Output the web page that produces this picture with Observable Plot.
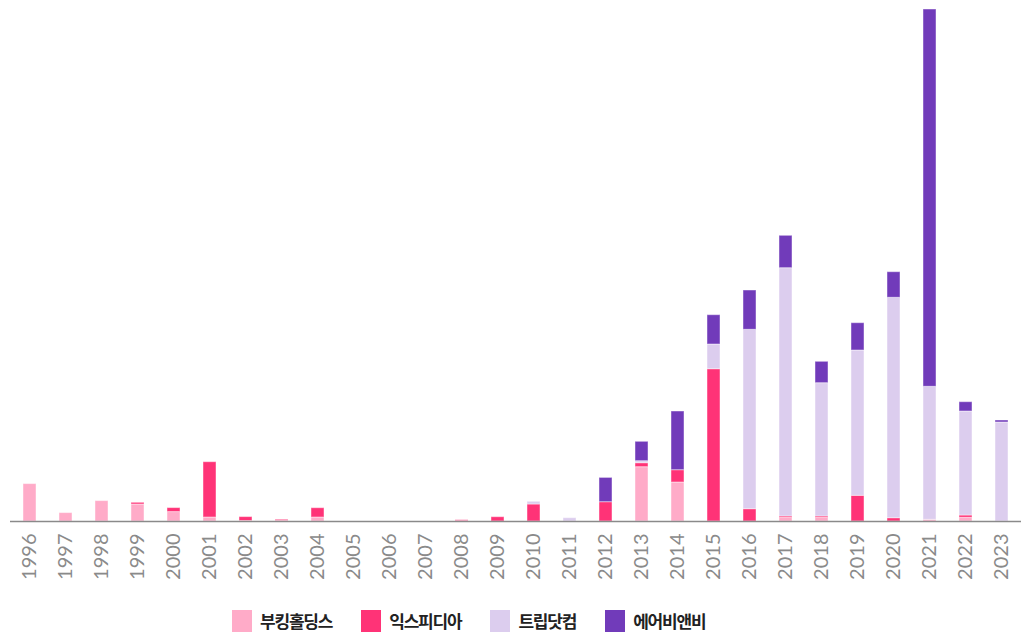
<!DOCTYPE html>
<html>
<head>
<meta charset="utf-8">
<script src="https://cdn.jsdelivr.net/npm/d3@7"></script>
<script src="https://cdn.jsdelivr.net/npm/@observablehq/plot@0.6"></script>
<style>
  html, body { margin: 0; padding: 0; background: #fff; }
  #legend { display: flex; align-items: center; padding-left: 232px; margin-top: 22px; font-family: "Noto Sans CJK KR", sans-serif; font-size: 17px; font-weight: 700; letter-spacing: -1.2px; color: #222; }
  #legend .item { display: flex; align-items: center; margin-right: 29px; }
  #legend .sw { width: 20px; height: 22px; margin-right: 8px; }
</style>
</head>
<body>
<div id="chart"></div>
<div id="legend"></div>
<script>
const years = ["1996","1997","1998","1999","2000","2001","2002","2003","2004","2005","2006","2007","2008","2009","2010","2011","2012","2013","2014","2015","2016","2017","2018","2019","2020","2021","2022","2023"];
const seriesNames = ["부킹홀딩스", "익스피디아", "트립닷컴", "에어비앤비"];
const seriesColors = ["#ffabc8", "#ff3377", "#dccdee", "#713bba"];
const booking = [37.4, 8.4, 20.4, 17, 9.4, 4, 0.5, 0.5, 4, 0, 0, 0, 0.3, 0, 0, 0, 0, 54.3, 39, 0, 0, 3.5, 3.5, 0, 0, 1.7, 3.7, 0];
const expedia = [0, 0, 0, 1.7, 4, 55.3, 3.9, 1.2, 9.3, 0, 0, 0, 1, 4.3, 17, 0, 19.3, 4, 12.3, 152.3, 12.3, 1.5, 1.5, 25.7, 3.3, 0, 2.3, 0];
const trip = [0, 0, 0, 0, 0, 0, 0, 0, 0, 0, 0, 0, 0, 0, 2.7, 3.3, 0, 2, 0, 24.7, 179.4, 248.3, 133.3, 145.3, 220.4, 133, 104, 99];
const airbnb = [0, 0, 0, 0, 0, 0, 0, 0, 0, 0, 0, 0, 0, 0, 0, 0, 24.3, 19.4, 58.7, 29.3, 39.3, 32.4, 21.4, 27.3, 25.6, 377.3, 9.3, 2];

const seriesValues = [booking, expedia, trip, airbnb];
const rows = [];
seriesNames.forEach((name, si) => {
  years.forEach((yr, i) => {
    const v = seriesValues[si][i];
    if (v > 0) rows.push({year: yr, company: name, value: v});
  });
});

const chart = Plot.plot({
  width: 1029,
  height: 586,
  marginTop: 8,
  marginBottom: 65,
  marginLeft: 10,
  marginRight: 8,
  x: { domain: years, paddingInner: 0.63, paddingOuter: 0.315, label: null },
  y: { domain: [0, 513], axis: null },
  color: { domain: seriesNames, range: seriesColors },
  style: { fontFamily: "Lato, sans-serif" },
  marks: [
    Plot.barY(rows, {
      x: "year", y: "value", fill: "company",
      stroke: "white", strokeOpacity: 0.45, strokeWidth: 1
    }),
    Plot.ruleY([0], { stroke: "#8a8a8a", strokeWidth: 1.5 }),
    Plot.axisX({ tickRotate: -90, tickSize: 0, tickPadding: 12, fontSize: 20, fill: "#8a8a8a", label: null })
  ]
});
document.getElementById("chart").appendChild(chart);

const legend = document.getElementById("legend");
seriesNames.forEach((n, i) => {
  const it = document.createElement("div");
  it.className = "item";
  const sw = document.createElement("div");
  sw.className = "sw";
  sw.style.background = seriesColors[i];
  const t = document.createElement("span");
  t.textContent = n;
  it.appendChild(sw); it.appendChild(t);
  legend.appendChild(it);
});
</script>
</body>
</html>
